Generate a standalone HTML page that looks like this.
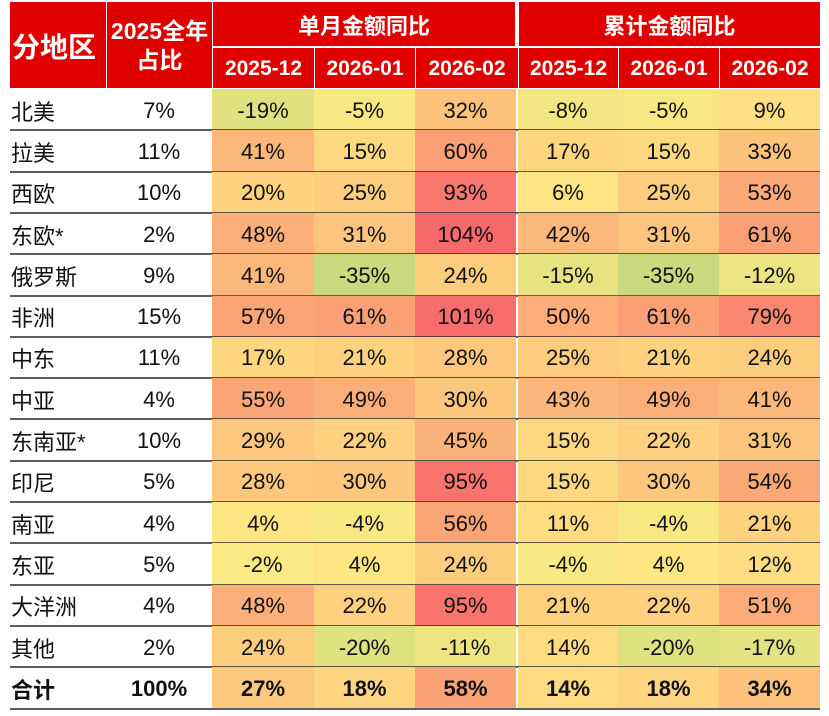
<!DOCTYPE html>
<html><head><meta charset="utf-8"><style>
body{margin:0;width:829px;height:716px;background:#fff;font-family:"Liberation Sans","Noto Sans CJK SC",sans-serif;overflow:hidden}
#t{position:absolute;left:0;top:0;width:829px;height:716px}
.c{position:absolute;display:flex;align-items:center;justify-content:center;font-size:22px;color:#111;box-sizing:border-box;padding-top:2px}
.h{background:#e00000;color:#fff;font-weight:bold}
.line{position:absolute;height:2px;background:rgba(40,40,40,0.75)}
</style></head><body>
<div id="t"></div>
<script>
const regions=["北美","拉美","西欧","东欧*","俄罗斯","非洲","中东","中亚","东南亚*","印尼","南亚","东亚","大洋洲","其他","合计"];
const shares=["7%","11%","10%","2%","9%","15%","11%","4%","10%","5%","4%","5%","4%","2%","100%"];
const monthly1=[-19,41,20,48,41,57,17,55,29,28,4,-2,48,24,27];
const monthly2=[-5,15,25,31,-35,61,21,49,22,30,-4,4,22,-20,18];
const monthly3=[32,60,93,104,24,101,28,30,45,95,56,24,95,-11,58];
const cum1=[-8,17,6,42,-15,50,25,43,15,15,11,-4,21,14,14];
const cum2=[-5,15,25,31,-35,61,21,49,22,30,-4,4,22,-20,18];
const cum3=[9,33,53,61,-12,79,24,41,31,54,21,12,51,-17,34];
const subHeaders=["2025-12","2026-01","2026-02","2025-12","2026-01","2026-02"];
const series=[monthly1,monthly2,monthly3,cum1,cum2,cum3];
const colX=[212,314,415,518,618,719,820];
const t=document.getElementById('t');
function color(v){
  let a,b,f;
  if(v<0){a=[255,235,132];b=[200,217,126];f=Math.min(1,-v/35);}
  else{a=[255,235,132];b=[248,105,107];f=Math.min(1,v/104);}
  return 'rgb('+a.map((x,i)=>Math.round(x+(b[i]-x)*f)).join(',')+')';
}
function cell(x,y,w,h,txt,cls,name,bg,style){
  const d=document.createElement('div');
  d.className='c '+(cls||'');
  d.style.left=x+'px';d.style.top=y+'px';d.style.width=w+'px';d.style.height=h+'px';
  if(bg)d.style.background=bg;
  if(style)d.style.cssText+=style;
  d.innerHTML=txt;
  
  
  t.appendChild(d);return d;
}
cell(10,2,96,86,"分地区","h","region-header",null,"font-size:28px;justify-content:flex-start;padding-left:2px");
cell(107,2,105,86,"2025全年<br>占比","h","share-header",null,"font-size:23px;text-align:center;line-height:29px");
cell(213,2,302,44,"单月金额同比","h","monthly-yoy-header",null,"font-size:22px");
cell(519,2,301,44,"累计金额同比","h","cumulative-yoy-header",null,"font-size:22px");
for(let j=0;j<6;j++){
  cell(colX[j]+1,48,colX[j+1]-colX[j]-1,40,subHeaders[j],"h","month-header-"+j,null,"font-size:21px");
}
const top0=89,rh=41.3;
for(let i=0;i<regions.length;i++){
  const y=top0+i*rh;const bold=i===regions.length-1?"font-weight:bold;":"";
  cell(10,y,96,rh,regions[i],"","region-label",null,bold+"justify-content:flex-start;padding-left:1px");
  cell(106,y,106,rh,shares[i],"","share-value",null,bold);
  for(let j=0;j<6;j++){
    const v=series[j][i];
    const w=colX[j+1]-colX[j]-(j===2?2:0);
    cell(colX[j],y,w,rh,v+"%","","heat-cell",color(v),bold);
  }
  const l=document.createElement('div');
  l.className='line';l.style.left='10px';l.style.width='810px';l.style.top=(y+rh-1)+'px';
  
  
  t.appendChild(l);
}
</script>
</body></html>
